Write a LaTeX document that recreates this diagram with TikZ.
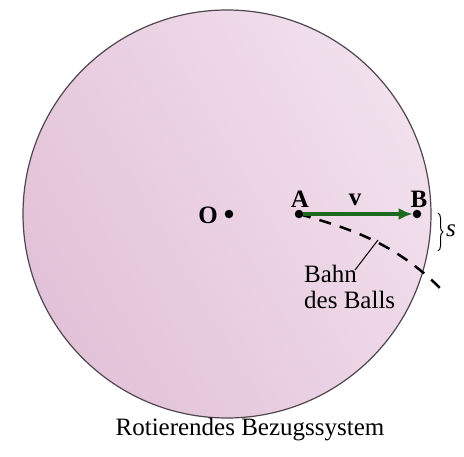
\documentclass[tikz,border=0pt]{standalone}
\usepackage{fontspec}
\setmainfont{Liberation Serif}
\usetikzlibrary{arrows.meta,decorations.pathreplacing}
\definecolor{diskL}{RGB}{226,194,216}
\definecolor{diskR}{RGB}{242,224,237}
\definecolor{arrowgreen}{RGB}{28,105,34}
\definecolor{rim}{RGB}{80,70,80}
\tikzset{
  lbl/.style={font=\fontsize{25}{26}\selectfont, inner sep=0pt},
  blbl/.style={font=\fontsize{25}{26}\selectfont\bfseries, inner sep=0pt},
  pt/.style={circle, fill=black, inner sep=0pt, minimum size=8.5pt},
}
\begin{document}
\begin{tikzpicture}[x=1pt,y=-1pt]
\useasboundingbox (0,0) rectangle (464,456);
\fill[white] (0,0) rectangle (464,456);
% disk
\shade[left color=diskL, right color=diskR, shading angle=120] (227,214) circle (204);
\draw[rim, line width=1.2pt] (227,214) circle (204);
% points
\node[pt] (O) at (229,214) {};
\node[pt] (A) at (299,214) {};
\node[pt] (B) at (417,214) {};
\node[blbl] (Olbl) at (208,215) {O};
\node[blbl] (Albl) at (300,199) {A};
\node[blbl] (Blbl) at (419,199) {B};
% path of ball
\coordinate (E) at (441,289);
\draw[black, line width=2.5pt, dash pattern=on 12pt off 9.3pt] (A.center) .. controls (347,228) and (393,241) .. (E);
% velocity arrow
\draw[arrowgreen, line width=4.5pt, -{Latex[length=14pt,width=12pt]}] (A) -- (B.west);
\node[blbl] (vlbl) at (355,200) {v};
\coordinate (P) at (378,240);
\node[lbl, align=left, anchor=north west] (bahn) at (304,265) {Bahn\\des Balls};
\draw[black, line width=1pt] (P) -- (355,270);
% s brace
\coordinate (s1) at (438,213);
\coordinate (s2) at (438,251);
\draw[black, line width=1pt, decorate, decoration={brace, amplitude=5pt}] (s1) -- (s2);
\node[lbl, font=\fontsize{25}{26}\selectfont\itshape] (slbl) at (451,231) {s};
% caption
\node[lbl] (cap) at (250,430) {Rotierendes Bezugssystem};
\end{tikzpicture}
\end{document}
